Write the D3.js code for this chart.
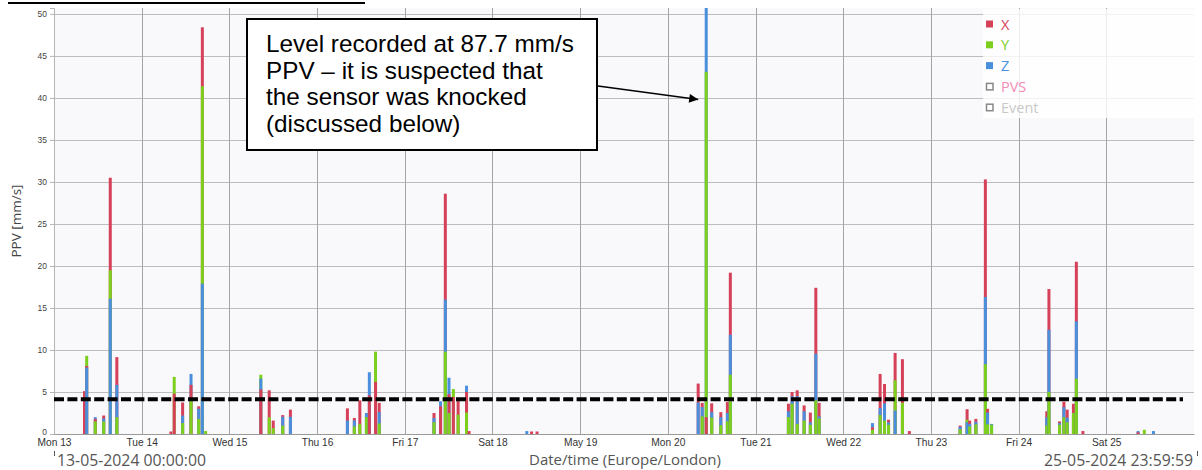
<!DOCTYPE html>
<html>
<head>
<meta charset="utf-8">
<script src="https://cdn.jsdelivr.net/npm/d3@7"></script>
<style>
  body { margin: 0; background: #fff; }
  svg { display: block; }
</style>
</head>
<body>
<svg id="chart" width="1202" height="470"></svg>
<script>
// ---- data ---------------------------------------------------------------
const startTime = new Date(2024, 4, 13, 0, 0, 0);
const endTime = new Date(2024, 4, 26, 0, 0, 0);
const dayLabels = ["Mon 13", "Tue 14", "Wed 15", "Thu 16", "Fri 17", "Sat 18", "May 19",
                   "Mon 20", "Tue 21", "Wed 22", "Thu 23", "Fri 24", "Sat 25"];
const yTickValues = [0, 5, 10, 15, 20, 25, 30, 35, 40, 45, 50];

// hours after 13-05-2024 00:00 for each recorded interval
const hours = [8.35, 8.95, 11.3, 13.6, 15.4, 17.2, 32.0, 32.9, 35.2, 37.5, 39.6, 40.6, 41.5,
  56.6, 58.9, 60.0, 62.6, 64.7, 80.3, 82.2, 83.7, 85.5, 86.3, 88.0, 89.0,
  104.0, 105.8, 107.1, 108.1, 109.3, 110.6, 112.9, 113.6, 129.4, 130.7, 132.2,
  176.3, 177.4, 178.5, 180.0, 182.5, 184.3, 185.1,
  201.0, 202.0, 203.4, 205.3, 207.0, 208.5, 209.4,
  224.0, 226.1, 227.3, 228.4, 230.2, 232.2, 234.1,
  248.0, 249.9, 250.6, 252.3, 254.9, 255.5, 256.6,
  271.7, 272.3, 275.2, 276.4, 277.3, 279.0, 279.8, 281.6, 296.7, 298.4, 300.9];
// peak particle velocity per axis, mm/s
const ppvX = [5.1, 8.1, 1.8, 2.2, 30.5, 9.15, 0.3, 4.8, 3.75, 5.85, 3.3, 48.4, 0,
  5.3, 5.2, 1.6, 2.25, 2.9, 3.05, 1.9, 4.0, 0, 4.6, 6.2, 3.7,
  2.5, 3.3, 28.6, 4.75, 4.4, 3.95, 5.0, 0.35, 0, 0.3, 0.3,
  6.0, 3.7, 2.0, 3.65, 2.6, 3.8, 19.2,
  3.6, 5.0, 5.2, 3.4, 2.55, 17.4, 3.7,
  0.8, 7.15, 5.95, 1.7, 9.65, 8.9, 0.35,
  1.0, 2.95, 1.6, 1.8, 30.3, 3.0, 0,
  2.7, 17.25, 1.5, 3.85, 2.9, 3.6, 20.5, 0.35, 0.2, 0, 0];
const ppvY = [0, 9.3, 1.5, 1.5, 19.5, 2.0, 0, 6.8, 1.3, 4.1, 1.8, 41.4, 0.35,
  7.05, 2.0, 0.7, 1.0, 0, 0, 0.9, 1.2, 2.0, 0, 9.8, 1.25,
  1.4, 0, 9.8, 2.5, 5.35, 2.3, 2.55, 0, 0, 0, 0,
  0, 2.1, 43.1, 1.95, 1.05, 1.5, 7.05,
  2.0, 3.6, 1.2, 1.6, 1.1, 4.0, 1.85,
  0.5, 2.25, 1.6, 1.1, 6.4, 3.7, 0,
  0.55, 1.7, 0.9, 1.15, 8.3, 1.15, 1.1,
  1.0, 5.0, 1.1, 2.0, 1.4, 2.5, 6.57, 0, 0, 0.5, 0];
const ppvZ = [0, 7.9, 2.0, 1.85, 16.1, 5.85, 0, 0, 2.2, 7.15, 3.0, 17.9, 0,
  6.6, 0, 0, 2.05, 2.05, 1.6, 1.6, 0, 2.5, 7.35, 0, 2.6,
  1.9, 3.9, 16.0, 6.7, 0, 0, 5.75, 0, 0.35, 0, 0,
  3.75, 3.2, 87.7, 2.6, 2.0, 2.5, 11.8,
  2.7, 4.5, 4.5, 2.7, 1.4, 9.55, 2.1,
  1.3, 3.1, 3.65, 1.4, 2.8, 0, 0,
  0.85, 1.4, 1.2, 1.45, 16.3, 2.55, 1.2,
  2.0, 12.4, 1.3, 3.2, 1.95, 0, 13.4, 0, 0.35, 0, 0.35];
const limitPPV = 4.15;          // dashed reference level
const flaggedIndex = 38;        // interval picked out by the note

const seriesNames = ["X", "Y", "Z", "PVS", "Event"];
const seriesColors = ["#d6415a", "#7dcf1d", "#4a8fdb", "#f28cb5", "#c9c9c9"];

// ---- layout -------------------------------------------------------------
const plot = { left: 54, right: 1194, top: 8, bottom: 434 };

const svg = d3.select("#chart");
const x = d3.scaleTime().domain([startTime, endTime]).range([plot.left, plot.right]);
const y = d3.scaleLinear().domain([0, 50.7]).range([plot.bottom, plot.top]);
const hourToDate = h => new Date(startTime.getTime() + h * 3600e3);

// plot background
svg.append("rect")
  .attr("x", plot.left).attr("y", plot.top)
  .attr("width", plot.right - plot.left).attr("height", plot.bottom - plot.top)
  .attr("fill", "#f9f9fc");

// horizontal grid
svg.append("g").selectAll("line").data(yTickValues).join("line")
  .attr("x1", plot.left).attr("x2", plot.right)
  .attr("y1", d => Math.round(y(d)) + 0.5).attr("y2", d => Math.round(y(d)) + 0.5)
  .attr("stroke", "#bdbdbd").attr("stroke-width", 1);

// vertical day grid
const dayTicks = d3.timeDay.range(startTime, endTime);
svg.append("g").selectAll("line").data(dayTicks.slice(1)).join("line")
  .attr("x1", d => Math.round(x(d)) + 0.5).attr("x2", d => Math.round(x(d)) + 0.5)
  .attr("y1", plot.top).attr("y2", plot.bottom)
  .attr("stroke", "#a4a4a4").attr("stroke-width", 1);

// y axis
const yAxis = d3.axisLeft(y).tickValues(yTickValues).tickSize(4).tickPadding(3);
const gy = svg.append("g").attr("transform", `translate(${plot.left},0)`).call(yAxis);
gy.select(".domain").attr("stroke", "#b5b5b5");
gy.selectAll(".tick line").attr("stroke", "#b5b5b5");
gy.selectAll(".tick text").attr("fill", "#444")
  .attr("dy", d => d === 0 ? "0.1em" : "0.32em")
  .style("font-family", "Liberation Sans, Arial, sans-serif").style("font-size", "8.5px");

// x axis
const xAxis = d3.axisBottom(x).tickValues(dayTicks).tickSize(0).tickPadding(5)
  .tickFormat((d, i) => dayLabels[i]);
const gx = svg.append("g").attr("transform", `translate(0,${plot.bottom})`).call(xAxis);
gx.select(".domain").attr("stroke", "#9a9a9a");
gx.selectAll(".tick text").attr("fill", "#333")
  .style("font-family", "Liberation Sans, Arial, sans-serif").style("font-size", "10.2px");

// bars: the three axes overlap in each interval, largest drawn first
svg.append("clipPath").attr("id", "plotClip").append("rect")
  .attr("x", plot.left).attr("y", plot.top)
  .attr("width", plot.right - plot.left).attr("height", plot.bottom - plot.top);

const records = hours.map((h, i) => ({
  t: hourToDate(h),
  parts: [
    { v: ppvX[i], c: seriesColors[0] },
    { v: ppvY[i], c: seriesColors[1] },
    { v: ppvZ[i], c: seriesColors[2] }
  ].filter(p => p.v > 0).sort((a, b) => b.v - a.v)
}));

const barW = 3;
const gBars = svg.append("g").attr("clip-path", "url(#plotClip)");
records.forEach(r => {
  gBars.selectAll(null).data(r.parts).join("rect")
    .attr("x", x(r.t) - barW / 2)
    .attr("width", barW)
    .attr("y", p => y(p.v))
    .attr("height", p => y(0) - y(p.v))
    .attr("fill", p => p.c);
});

// dashed reference level
svg.append("line")
  .attr("x1", plot.left).attr("x2", 1183)
  .attr("y1", y(limitPPV)).attr("y2", y(limitPPV))
  .attr("stroke", "#000").attr("stroke-width", 4)
  .attr("stroke-dasharray", "10,3.4");

// legend
const lg = svg.append("g");
lg.append("rect").attr("x", 983).attr("y", 9).attr("width", 211).attr("height", 109)
  .attr("fill", "#fff").attr("opacity", 0.8);
seriesNames.forEach((name, i) => {
  const yy = 24 + i * 20.8;
  if (i < 3) {
    lg.append("rect").attr("x", 986).attr("y", yy - 3.5).attr("width", 7).attr("height", 7)
      .attr("fill", seriesColors[i]);
  } else {
    lg.append("rect").attr("x", 986.5).attr("y", yy - 3).attr("width", 6.5).attr("height", 6.5)
      .attr("fill", "none").attr("stroke", "#888").attr("stroke-width", 1.5);
  }
  lg.append("text").attr("x", 1001).attr("y", yy + 5.5)
    .attr("fill", seriesColors[i])
    .style("font-family", "Open Sans, sans-serif").style("font-size", "14.5px")
    .text(name);
});

// axis titles
svg.append("text")
  .attr("transform", `translate(21,${(plot.top + plot.bottom) / 2}) rotate(-90)`)
  .attr("text-anchor", "middle")
  .attr("fill", "#444")
  .style("font-family", "Open Sans, sans-serif").style("font-size", "13.5px")
  .text("PPV [mm/s]");
svg.append("text")
  .attr("x", 625).attr("y", 465).attr("text-anchor", "middle")
  .attr("fill", "#555")
  .style("font-family", "Open Sans, sans-serif").style("font-size", "15px")
  .text("Date/time (Europe/London)");
svg.append("text")
  .attr("x", 57).attr("y", 465.5).attr("fill", "#555")
  .style("font-family", "Open Sans, sans-serif").style("font-size", "15.8px")
  .text(d3.timeFormat("%d-%m-%Y %H:%M:%S")(startTime));
svg.append("text")
  .attr("x", 1193).attr("y", 465.5).attr("text-anchor", "end").attr("fill", "#555")
  .style("font-family", "Open Sans, sans-serif").style("font-size", "15.8px")
  .text(d3.timeFormat("%d-%m-%Y %H:%M:%S")(new Date(endTime.getTime() - 1000)));
svg.append("line").attr("x1", 54.5).attr("x2", 54.5).attr("y1", 451).attr("y2", 456).attr("stroke", "#555");
svg.append("line").attr("x1", 1197.5).attr("x2", 1197.5).attr("y1", 451).attr("y2", 456).attr("stroke", "#555");

// heading rule at the top
svg.append("line").attr("x1", 8).attr("x2", 365).attr("y1", 3).attr("y2", 3)
  .attr("stroke", "#000").attr("stroke-width", 2);

// note with arrow
const note = svg.append("g");
note.append("rect").attr("x", 247).attr("y", 19).attr("width", 350).attr("height", 131)
  .attr("fill", "#fff").attr("stroke", "#000").attr("stroke-width", 2);
const noteLines = [
  `Level recorded at ${ppvZ[flaggedIndex]} mm/s`,
  "PPV \u2013 it is suspected that",
  "the sensor was knocked",
  "(discussed below)"
];
note.selectAll("text.note").data(noteLines).join("text")
  .attr("class", "note")
  .attr("x", 266).attr("y", (d, i) => 52 + i * 26.5)
  .attr("fill", "#000")
  .style("font-family", "Liberation Sans, Arial, sans-serif").style("font-size", "24.3px")
  .text(d => d);

svg.append("defs").append("marker")
  .attr("id", "arrowHead").attr("viewBox", "0 0 10 10")
  .attr("refX", 10).attr("refY", 5)
  .attr("markerWidth", 12).attr("markerHeight", 9).attr("markerUnits", "userSpaceOnUse")
  .attr("orient", "auto")
  .append("path").attr("d", "M0,0 L10,5 L0,10 Z").attr("fill", "#000");
const tipX = x(hourToDate(hours[flaggedIndex])) - 8;
const tipY = y(39.8);
note.append("line")
  .attr("x1", 598).attr("y1", 86).attr("x2", tipX).attr("y2", tipY)
  .attr("stroke", "#000").attr("stroke-width", 1.5)
  .attr("marker-end", "url(#arrowHead)");
</script>
</body>
</html>
